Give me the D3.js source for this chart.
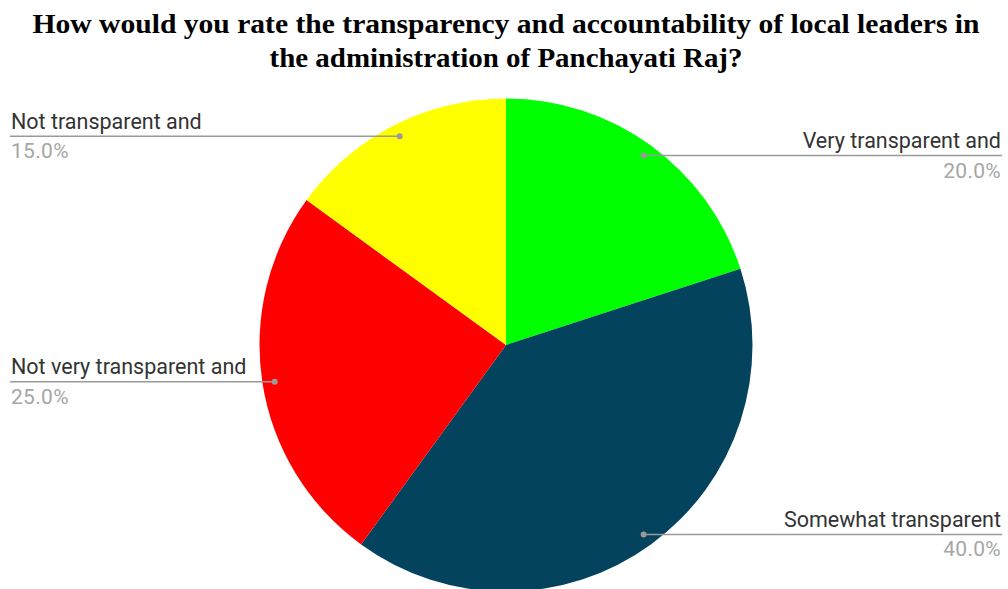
<!DOCTYPE html>
<html>
<head>
<meta charset="utf-8">
<script src="https://cdn.jsdelivr.net/npm/d3@7"></script>
<style>
  html, body { margin: 0; padding: 0; background: #ffffff; }
  svg { display: block; }
</style>
</head>
<body>
<svg id="chart" width="1008" height="589"></svg>
<script>
// Survey responses, in slice order starting at 12 o'clock and going clockwise
const categories = [
  "Very transparent and",
  "Somewhat transparent",
  "Not very transparent and",
  "Not transparent and"
];
const values = [20, 40, 25, 15];
const sliceColors = ["#00ff00", "#03435e", "#ff0000", "#ffff00"];
const titleLines = [
  "How would you rate the transparency and accountability of local leaders in",
  "the administration of Panchayati Raj?"
];

const W = 1008, H = 589;
const cx = 506, cy = 345, radius = 246.5;
const leftEdge = 10, rightEdge = 1002;

const svg = d3.select("#chart");

// Title
const title = svg.append("g")
  .attr("font-family", "'Liberation Serif', 'Times New Roman', serif")
  .attr("font-weight", "bold")
  .attr("font-size", 28)
  .attr("fill", "#000");
const titleBaselines = [33, 67];
const titleWidths = [947, 473];
titleLines.forEach((t, i) => {
  title.append("text")
    .attr("x", cx)
    .attr("y", titleBaselines[i])
    .attr("text-anchor", "middle")
    .attr("textLength", titleWidths[i])
    .attr("lengthAdjust", "spacingAndGlyphs")
    .text(t);
});

// Pie
const data = categories.map((c, i) => ({ name: c, value: values[i], color: sliceColors[i] }));
const total = d3.sum(values);
const pie = d3.pie().sort(null).value(d => d.value).startAngle(0).endAngle(2 * Math.PI);
const arcs = pie(data);
const arc = d3.arc().innerRadius(0).outerRadius(radius);
const anchorArc = d3.arc().innerRadius(radius * 0.95).outerRadius(radius * 0.95);

const g = svg.append("g").attr("transform", `translate(${cx},${cy})`);
g.selectAll("path.slice")
  .data(arcs)
  .join("path")
  .attr("class", "slice")
  .attr("d", arc)
  .attr("fill", d => d.data.color);

// Leader lines and labels
const fmt = d3.format(".1%");
const labels = svg.append("g")
  .attr("font-family", "Roboto, 'Noto Sans', sans-serif");

arcs.forEach(d => {
  const mid = (d.startAngle + d.endAngle) / 2;
  const [ax, ay] = anchorArc.centroid(d);
  const px = cx + ax, py = cy + ay;
  const right = Math.sin(mid) > 0;
  const ex = right ? rightEdge : leftEdge;

  labels.append("line")
    .attr("x1", px).attr("y1", py)
    .attr("x2", ex).attr("y2", py)
    .attr("stroke", "#9a9a9a")
    .attr("stroke-width", 1.5);
  labels.append("circle")
    .attr("cx", px).attr("cy", py)
    .attr("r", 3)
    .attr("fill", "#9a9a9a");

  const tx = right ? ex - 1 : ex + 1;
  const anchor = right ? "end" : "start";
  labels.append("text")
    .attr("x", tx)
    .attr("y", py - 7.5)
    .attr("text-anchor", anchor)
    .attr("font-size", 21.5)
    .attr("fill", "#333333")
    .text(d.data.name);
  labels.append("text")
    .attr("x", tx)
    .attr("y", py + 22)
    .attr("text-anchor", anchor)
    .attr("font-size", 21)
    .attr("fill", "#a6a6a6")
    .attr("letter-spacing", 0.3)
    .text(fmt(d.data.value / total));
});
</script>
</body>
</html>
